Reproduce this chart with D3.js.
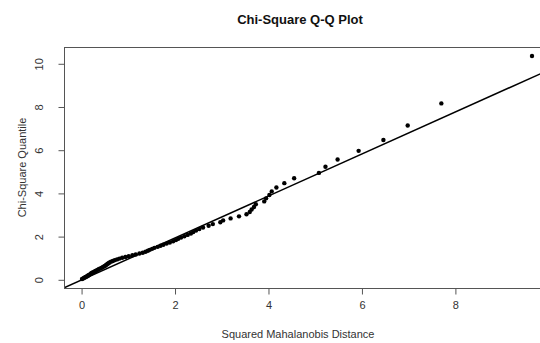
<!DOCTYPE html>
<html>
<head>
<meta charset="utf-8">
<script src="https://cdn.jsdelivr.net/npm/d3@7"></script>
<style>
  html, body { margin: 0; padding: 0; background: #fff; }
  svg { display: block; }
  text { font-family: "Liberation Sans", Arial, sans-serif; }
</style>
</head>
<body>
<svg id="chart" width="540" height="343"></svg>
<script>
// Sorted squared Mahalanobis distances (x) and matching chi-square quantiles, df = 2 (y)
const mahalanobis = [
  0.02, 0.04, 0.06, 0.08, 0.10, 0.12, 0.14, 0.15, 0.17, 0.19,
  0.21, 0.22, 0.24, 0.26, 0.29, 0.31, 0.33, 0.36, 0.38, 0.41,
  0.44, 0.46, 0.49, 0.51, 0.53, 0.55, 0.57, 0.59, 0.61, 0.64,
  0.68, 0.72, 0.77, 0.82, 0.88, 0.95, 1.02, 1.10, 1.17, 1.25,
  1.32, 1.38, 1.43, 1.47, 1.52, 1.57, 1.64, 1.70, 1.76, 1.83,
  1.90, 1.97, 2.03, 2.08, 2.14, 2.21, 2.28, 2.35, 2.40, 2.46,
  2.53, 2.61, 2.73, 2.82, 2.98, 3.04, 3.20, 3.38, 3.54, 3.61,
  3.65, 3.70, 3.74, 3.92, 3.96, 4.03, 4.08, 4.18, 4.35, 4.56,
  5.09, 5.23, 5.49, 5.94, 6.47, 6.99, 7.71, 9.65
];
const chiQuantile = [
  0.011, 0.034, 0.058, 0.081, 0.105, 0.129, 0.154, 0.178, 0.203, 0.229,
  0.254, 0.280, 0.306, 0.333, 0.360, 0.388, 0.415, 0.444, 0.472, 0.501,
  0.530, 0.560, 0.591, 0.621, 0.653, 0.684, 0.717, 0.749, 0.783, 0.817,
  0.851, 0.886, 0.922, 0.958, 0.995, 1.033, 1.072, 1.111, 1.151, 1.192,
  1.233, 1.276, 1.319, 1.364, 1.409, 1.456, 1.503, 1.552, 1.602, 1.653,
  1.706, 1.760, 1.816, 1.873, 1.932, 1.992, 2.055, 2.119, 2.186, 2.255,
  2.326, 2.400, 2.477, 2.557, 2.641, 2.728, 2.819, 2.914, 3.014, 3.119,
  3.230, 3.348, 3.473, 3.606, 3.749, 3.903, 4.070, 4.252, 4.452, 4.675,
  4.925, 5.211, 5.545, 5.947, 6.449, 7.122, 8.144, 10.341
];
const xTicks = [0, 2, 4, 6, 8];
const yTicks = [0, 2, 4, 6, 8, 10];

// Reference line (intercept, slope)
const refLine = { intercept: -0.04, slope: 0.972 };

const titleText = "Chi-Square Q-Q Plot";
const xLabel = "Squared Mahalanobis Distance";
const yLabel = "Chi-Square Quantile";

const svg = d3.select("#chart");
const plot = { left: 64, right: 550, top: 47, bottom: 288 };

// Axis limits padded by 4% of the data range on each side
function padded(values) {
  const [lo, hi] = d3.extent(values);
  const pad = (hi - lo) * 0.04;
  return [lo - pad, hi + pad];
}

const x = d3.scaleLinear().domain(padded(mahalanobis)).range([plot.left, plot.right]);
const y = d3.scaleLinear().domain(padded(chiQuantile)).range([plot.bottom, plot.top]);

svg.append("rect").attr("width", 540).attr("height", 343).attr("fill", "#fff");

svg.append("defs").append("clipPath").attr("id", "plot-clip")
  .append("rect")
  .attr("x", plot.left).attr("y", plot.top)
  .attr("width", plot.right - plot.left).attr("height", plot.bottom - plot.top);

// Points
const pts = mahalanobis.map((d, i) => ({ x: d, y: chiQuantile[i] }));
svg.append("g").attr("clip-path", "url(#plot-clip)")
  .selectAll("circle").data(pts).join("circle")
  .attr("cx", d => x(d.x)).attr("cy", d => y(d.y))
  .attr("r", 2.2).attr("fill", "#000");

// Reference line across the whole plot area
const [x0, x1] = x.domain();
svg.append("line").attr("clip-path", "url(#plot-clip)")
  .attr("x1", x(x0)).attr("y1", y(refLine.intercept + refLine.slope * x0))
  .attr("x2", x(x1)).attr("y2", y(refLine.intercept + refLine.slope * x1))
  .attr("stroke", "#000").attr("stroke-width", 1.5);

// Box
svg.append("rect")
  .attr("x", plot.left + 0.5).attr("y", plot.top + 0.5)
  .attr("width", plot.right - plot.left).attr("height", plot.bottom - plot.top)
  .attr("fill", "none").attr("stroke", "#555").attr("stroke-width", 1);

// Axes
const xAxis = d3.axisBottom(x).tickValues(xTicks).tickSize(6).tickPadding(7).tickFormat(d3.format("d"));
const gx = svg.append("g").attr("transform", `translate(0.5,${plot.bottom + 0.5})`).call(xAxis);
gx.select(".domain").remove();
gx.selectAll(".tick line").attr("stroke", "#555");
gx.selectAll(".tick text").attr("font-size", 11).attr("fill", "#333")
  .attr("font-family", "Liberation Sans, Arial, sans-serif");

const yAxis = d3.axisLeft(y).tickValues(yTicks).tickSize(6).tickFormat(d3.format("d"));
const gy = svg.append("g").attr("transform", `translate(${plot.left + 0.5},0.5)`).call(yAxis);
gy.select(".domain").remove();
gy.selectAll(".tick line").attr("stroke", "#555");
gy.selectAll(".tick text")
  .attr("font-size", 11).attr("fill", "#333")
  .attr("font-family", "Liberation Sans, Arial, sans-serif")
  .attr("x", null).attr("dy", null)
  .attr("text-anchor", "middle")
  .attr("transform", "translate(-22,0) rotate(-90)")
  .attr("y", 0).attr("dy", "0");

// Titles
svg.append("text").attr("x", 300).attr("y", 24)
  .attr("text-anchor", "middle").attr("font-size", 13).attr("font-weight", "bold")
  .attr("fill", "#111").text(titleText);

svg.append("text").attr("x", 298).attr("y", 338)
  .attr("text-anchor", "middle").attr("font-size", 11).attr("fill", "#333").text(xLabel);

svg.append("text")
  .attr("transform", `translate(26,${(plot.top + plot.bottom) / 2}) rotate(-90)`)
  .attr("text-anchor", "middle").attr("font-size", 11).attr("fill", "#333").text(yLabel);
</script>
</body>
</html>
